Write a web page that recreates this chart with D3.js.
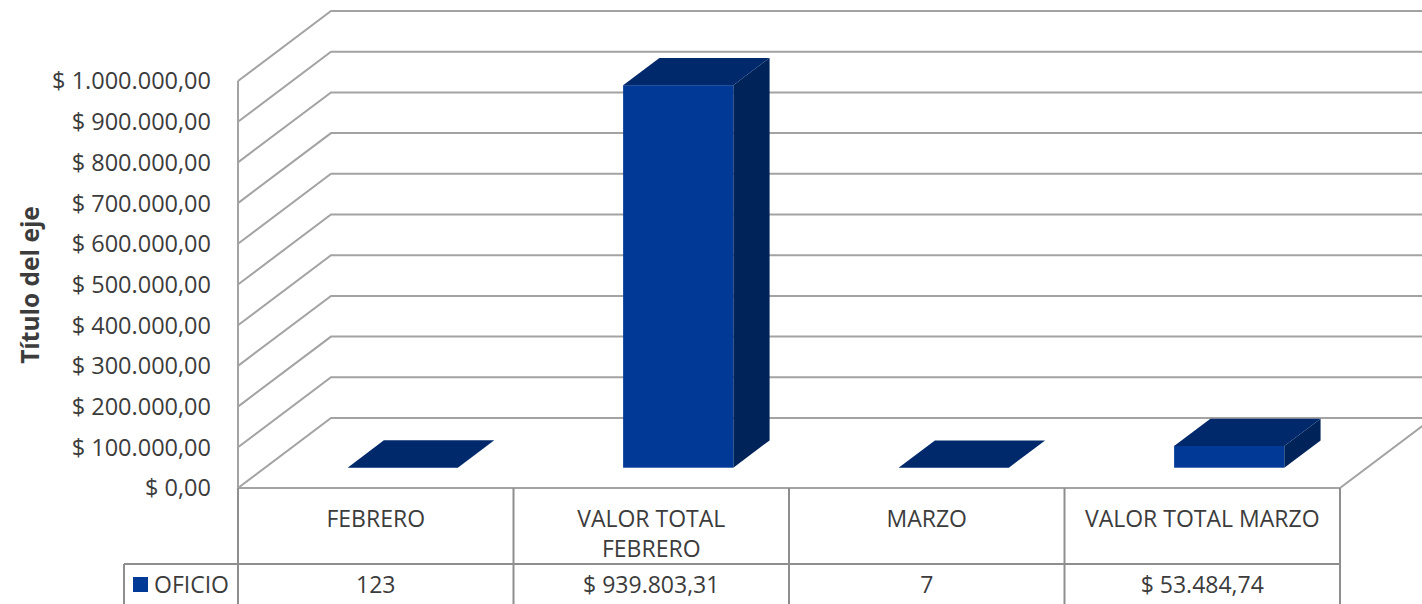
<!DOCTYPE html>
<html>
<head>
<meta charset="utf-8">
<script src="https://cdn.jsdelivr.net/npm/d3@7"></script>
<style>
  body { margin: 0; background: #fff; }
  text { font-family: 'Open Sans', sans-serif; fill: #3c3c3c; }
</style>
</head>
<body>
<div id="main"></div>
<script>
'use strict';

// data
const categories = ['FEBRERO', 'VALOR TOTAL FEBRERO', 'MARZO', 'VALOR TOTAL MARZO'];
const values = [123, 939803.31, 7, 53484.74];
const tableLabels = ['123', '$ 939.803,31', '7', '$ 53.484,74'];
const seriesName = 'OFICIO';
const yTicks = [0, 100000, 200000, 300000, 400000, 500000, 600000, 700000, 800000, 900000, 1000000];
const axisTitle = 'Título del eje';

// configuration
const canvas = { width: 1422, height: 604 };
const plot = { left: 238, right: 1340, top: 81, bottom: 488 };
const depth = { dx: 93, dy: -70 };   // oblique offset of the back wall
const barDepth = { front: 0.29, back: 0.68 };
const colors = { front: '#013996', top: '#00296C', side: '#00235A', grid: '#A3A3A3', table: '#8E8E8E' };

const locale = d3.formatLocale({ decimal: ',', thousands: '.', grouping: [3], currency: ['$ ', ''] });
const fmt = locale.format('$,.2f');

const svg = d3.select('#main').append('svg')
  .attr('width', canvas.width)
  .attr('height', canvas.height);

const x = d3.scaleBand()
  .domain(categories)
  .range([plot.left, plot.right])
  .paddingInner(0);

const y = d3.scaleLinear()
  .domain([0, 1000000])
  .range([plot.bottom, plot.top]);

// walls & gridlines
const grid = svg.append('g')
  .attr('fill', 'none')
  .attr('stroke', colors.grid)
  .attr('stroke-width', 2);

yTicks.forEach(function (t) {
  grid.append('path')
    .attr('d', 'M' + plot.left + ',' + y(t) +
      'L' + (plot.left + depth.dx) + ',' + (y(t) + depth.dy) +
      'L' + (plot.right + depth.dx + 20) + ',' + (y(t) + depth.dy));
});

// floor front edge & right edge
grid.append('path')
  .attr('d', 'M' + plot.left + ',' + y(0) + 'L' + plot.right + ',' + y(0) +
    'L' + (plot.right + depth.dx) + ',' + (y(0) + depth.dy));

// value axis line
grid.append('line')
  .attr('x1', plot.left).attr('x2', plot.left)
  .attr('y1', y(1000000)).attr('y2', y(0));

// tick labels
svg.append('g')
  .selectAll('text')
  .data(yTicks)
  .join('text')
  .attr('x', 211)
  .attr('y', function (d) { return y(d); })
  .attr('dy', '0.36em')
  .attr('text-anchor', 'end')
  .style('font-size', '23.5px')
  .text(function (d) { return fmt(d); });

// axis title
svg.append('text')
  .attr('transform', 'translate(39,' + 285 + ') rotate(-90)')
  .attr('text-anchor', 'middle')
  .style('font-size', '24.5px')
  .style('font-weight', 'bold')
  .text(axisTitle);

// bars
const bw = x.bandwidth() * 0.4;
const fx = depth.dx * barDepth.front, fy = depth.dy * barDepth.front;
const ddx = depth.dx * (barDepth.back - barDepth.front), ddy = depth.dy * (barDepth.back - barDepth.front);

const bars = svg.append('g').selectAll('g')
  .data(categories.map(function (c, i) { return { c: c, v: values[i] }; }))
  .join('g')
  .attr('transform', function (d) {
    return 'translate(' + (x(d.c) + (x.bandwidth() - bw) / 2 + fx) + ',' + fy + ')';
  });

bars.append('path')  // side
  .attr('fill', colors.side)
  .attr('d', function (d) {
    return 'M' + bw + ',' + y(d.v) + 'L' + (bw + ddx) + ',' + (y(d.v) + ddy) +
      'L' + (bw + ddx) + ',' + (y(0) + ddy) + 'L' + bw + ',' + y(0) + 'Z';
  });

bars.append('rect')  // front
  .attr('fill', colors.front)
  .attr('x', 0)
  .attr('width', bw)
  .attr('y', function (d) { return y(d.v); })
  .attr('height', function (d) { return y(0) - y(d.v); });

bars.append('path')  // top
  .attr('fill', colors.top)
  .attr('d', function (d) {
    return 'M0,' + y(d.v) + 'L' + bw + ',' + y(d.v) + 'L' + (bw + ddx) + ',' + (y(d.v) + ddy) +
      'L' + ddx + ',' + (y(d.v) + ddy) + 'Z';
  });

// data table
const rowLine = 564;
const table = svg.append('g')
  .attr('stroke', colors.table)
  .attr('stroke-width', 2);

table.append('line')
  .attr('x1', 124).attr('x2', plot.right)
  .attr('y1', rowLine).attr('y2', rowLine);
table.append('line')
  .attr('x1', 124).attr('x2', 124)
  .attr('y1', rowLine).attr('y2', canvas.height);
table.selectAll('line.col')
  .data(categories.concat(['end']))
  .join('line')
  .attr('class', 'col')
  .attr('x1', function (d, i) { return i < categories.length ? x(d) : plot.right; })
  .attr('x2', function (d, i) { return i < categories.length ? x(d) : plot.right; })
  .attr('y1', y(0)).attr('y2', canvas.height);

// category labels (wrapped)
const catText = svg.append('g').selectAll('text')
  .data(categories)
  .join('text')
  .attr('text-anchor', 'middle')
  .style('font-size', '23px');

catText.each(function (d) {
  const el = d3.select(this);
  const cx = x(d) + x.bandwidth() / 2;
  const words = d.split(' ');
  let lines = [], cur = [];
  const probe = el.append('tspan');
  words.forEach(function (w) {
    const tryLine = cur.concat([w]).join(' ');
    probe.text(tryLine);
    if (probe.node().getComputedTextLength() > 245 && cur.length) {
      lines.push(cur.join(' '));
      cur = [w];
    } else {
      cur.push(w);
    }
  });
  lines.push(cur.join(' '));
  probe.remove();
  lines.forEach(function (l, i) {
    el.append('tspan')
      .attr('x', cx)
      .attr('y', 527 + i * 30)
      .text(l);
  });
});

// values row
svg.append('g').selectAll('text')
  .data(tableLabels)
  .join('text')
  .attr('x', function (d, i) { return x(categories[i]) + x.bandwidth() / 2; })
  .attr('y', 593)
  .attr('text-anchor', 'middle')
  .style('font-size', '23px')
  .text(function (d) { return d; });

// legend key
svg.append('rect')
  .attr('x', 133).attr('y', 577)
  .attr('width', 15).attr('height', 15)
  .attr('fill', colors.front);
svg.append('text')
  .attr('x', 154).attr('y', 593)
  .style('font-size', '23px')
  .text(seriesName);
</script>
</body>
</html>
